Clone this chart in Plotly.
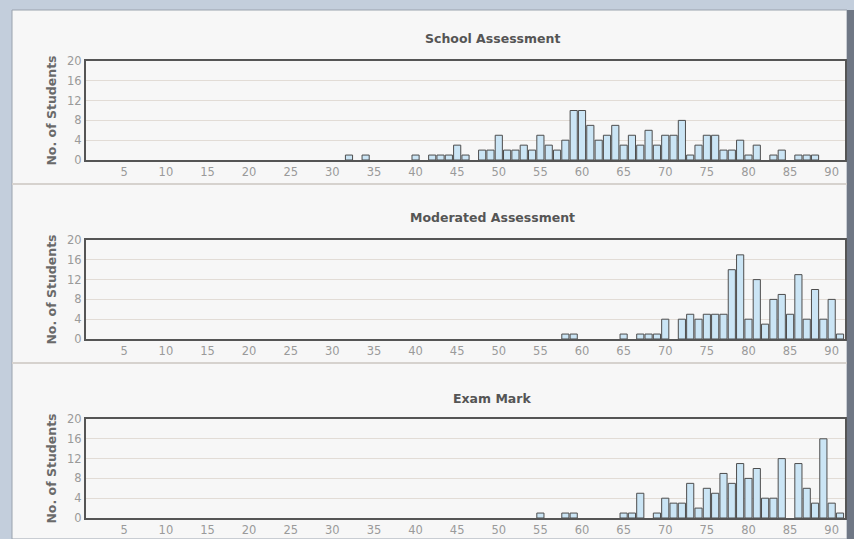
import plotly.graph_objects as go
from plotly.subplots import make_subplots

# marks with at least one student, and the number of students per mark
school_marks = [32, 34, 40, 42, 43, 44, 45, 46, 48, 49, 50, 51, 52, 53, 54, 55, 56, 57, 58, 59,
                60, 61, 62, 63, 64, 65, 66, 67, 68, 69, 70, 71, 72, 73, 74, 75, 76, 77, 78, 79,
                80, 81, 83, 84, 86, 87, 88]
school_counts = [1, 1, 1, 1, 1, 1, 3, 1, 2, 2, 5, 2, 2, 3, 2, 5, 3, 2, 4, 10,
                 10, 7, 4, 5, 7, 3, 5, 3, 6, 3, 5, 5, 8, 1, 3, 5, 5, 2, 2, 4,
                 1, 3, 1, 2, 1, 1, 1]

moderated_marks = [58, 59, 65, 67, 68, 69, 70, 72, 73, 74, 75, 76, 77, 78, 79, 80, 81, 82, 83,
                   84, 85, 86, 87, 88, 89, 90, 91]
moderated_counts = [1, 1, 1, 1, 1, 1, 4, 4, 5, 4, 5, 5, 5, 14, 17, 4, 12, 3, 8,
                    9, 5, 13, 4, 10, 4, 8, 1]

exam_marks = [55, 58, 59, 65, 66, 67, 69, 70, 71, 72, 73, 74, 75, 76, 77, 78, 79, 80, 81, 82,
              83, 84, 86, 87, 88, 89, 90, 91]
exam_counts = [1, 1, 1, 1, 1, 5, 1, 4, 3, 3, 7, 2, 6, 5, 9, 7, 11, 8, 10, 4,
               4, 12, 11, 6, 3, 16, 3, 1]

panel_titles = ["School Assessment", "Moderated Assessment", "Exam Mark"]
x_ticks = [5, 10, 15, 20, 25, 30, 35, 40, 45, 50, 55, 60, 65, 70, 75, 80, 85, 90]
y_ticks = [0, 4, 8, 12, 16, 20]

W, H = 854, 539
FONT = "DejaVu Sans"


def py(px):
    """pixel row -> paper y"""
    return 1 - px / H


def px_x(px):
    return px / W


panels = [
    (school_marks, school_counts, 61, 160, 38),
    (moderated_marks, moderated_counts, 240, 339, 218),
    (exam_marks, exam_counts, 419, 518, 398),
]

fig = make_subplots(rows=3, cols=1)

shapes = [
    # window frame
    dict(type="rect", xref="paper", yref="paper", x0=0, x1=1, y0=0, y1=1,
         fillcolor="#c3cedc", line_width=0, layer="below"),
    dict(type="rect", xref="paper", yref="paper", x0=px_x(12), x1=px_x(847), y0=0, y1=py(10),
         fillcolor="#f7f7f7", line=dict(color="#9aa3ae", width=1), layer="below"),
    dict(type="rect", xref="paper", yref="paper", x0=px_x(847), x1=1, y0=0, y1=py(10),
         fillcolor="#6f7785", line_width=0, layer="above"),
]
for sep in (184, 363):
    shapes.append(dict(type="line", xref="paper", yref="paper", x0=px_x(12), x1=px_x(847),
                       y0=py(sep), y1=py(sep), line=dict(color="#d6d2ce", width=2), layer="below"))

annotations = []
for i, (marks, counts, top, bottom, title_y) in enumerate(panels, start=1):
    fig.add_trace(go.Bar(
        x=marks, y=counts,
        marker=dict(color="#cbe5f5", line=dict(color="#4d4d4d", width=1)),
        showlegend=False,
    ), row=i, col=1)
    xa = "xaxis" if i == 1 else f"xaxis{i}"
    ya = "yaxis" if i == 1 else f"yaxis{i}"
    fig.layout[xa].update(
        domain=[px_x(86), px_x(845)], range=[0.4, 91.6], automargin=False,
        tickvals=x_ticks, ticks="", showgrid=False, zeroline=False,
        showline=True, linecolor="#555555", linewidth=2, mirror=True,
        tickfont=dict(family=FONT, size=11.5, color="#9a9a9a"),
    )
    fig.layout[ya].update(
        domain=[py(bottom), py(top)], range=[0, 20], automargin=False,
        tickvals=y_ticks, ticks="", showgrid=True, gridcolor="#e2dcd6", gridwidth=1,
        zeroline=False, showline=True, linecolor="#555555", linewidth=2, mirror=True,
        tickfont=dict(family=FONT, size=11.5, color="#9a9a9a"),
        title=dict(text="No. of Students", standoff=8,
                   font=dict(family=FONT, size=12.5, color="#6a6a6a", weight="bold")),
    )
    annotations.append(dict(
        text=f"<b>{panel_titles[i - 1]}</b>", xref="paper", yref="paper",
        x=px_x(492), y=py(title_y), showarrow=False, xanchor="center", yanchor="middle",
        font=dict(family=FONT, size=12.5, color="#555555"),
    ))

fig.update_layout(
    width=W, height=H,
    margin=dict(l=0, r=0, t=0, b=0),
    paper_bgcolor="#f7f7f7",
    plot_bgcolor="#ffffff",
    bargap=0.14,
    shapes=shapes,
    annotations=annotations,
)

# drop the browser's default body margin so the figure fills the window
fig.write_html(
    "out.html",
    config={"displayModeBar": False},
    post_script="document.body.style.margin='0';document.body.style.overflow='hidden';",
)
